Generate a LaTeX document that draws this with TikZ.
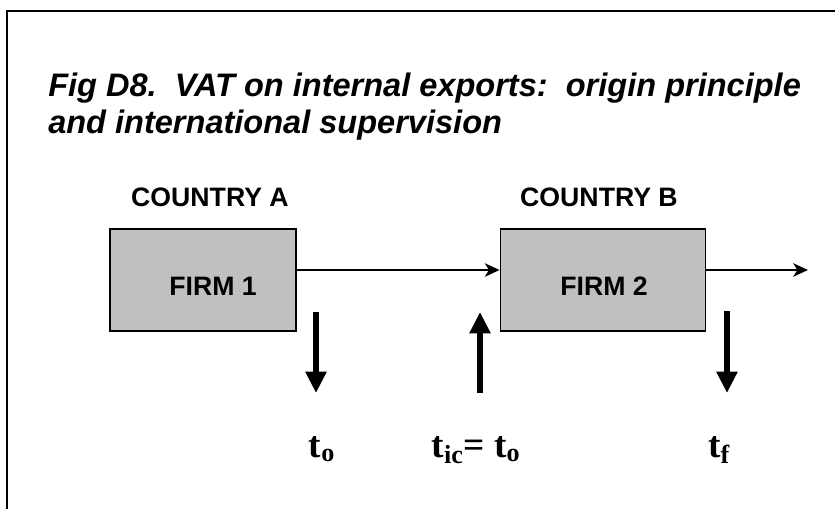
\documentclass[tikz,border=0pt]{standalone}
\usepackage{fontspec}
\setmainfont{Liberation Serif}
\setsansfont{Liberation Sans}
\usetikzlibrary{arrows.meta}
\definecolor{boxgray}{RGB}{192,192,192}

\begin{document}
\begin{tikzpicture}[x=0.75pt,y=-0.75pt]

      \useasboundingbox (0,0) rectangle (835,509);
      \draw[line width=1.1pt] (7,509) -- (7,11) -- (835,11);

      \begin{scope}[every node/.style={anchor=base west,inner sep=0pt,
          font=\sffamily\bfseries\itshape\fontsize{24.4}{28}\selectfont}]
        \node (title1) at (48,97) {Fig D8.\ \ VAT on internal exports:\ \ origin principle};
        \node (title2) at (48,134) {and international supervision};
      \end{scope}

      \begin{scope}[every node/.style={inner sep=0pt,font=\sffamily\bfseries\fontsize{20}{24}\selectfont}]
        \node (countryA) at (210,197) {COUNTRY A};
        \node (countryB) at (599,197) {COUNTRY B};
      \end{scope}

      \begin{scope}[every node/.style={draw,fill=boxgray,line width=1.1pt,minimum height=76.5pt}]
        \node[minimum width=139.5pt] (firm1) at (203,280) {};
        \node[minimum width=154pt]   (firm2) at (603,280) {};
      \end{scope}

      \begin{scope}[every node/.style={inner sep=0pt,font=\sffamily\bfseries\fontsize{20}{24}\selectfont}]
        \node at (213,286) {FIRM 1};
        \node at (604,286) {FIRM 2};
      \end{scope}

      \coordinate (out)  at (808,270);
      \coordinate (a1)   at (316,312);
      \coordinate (a1e)  at (316,393);
      \coordinate (a2)   at (480,393);
      \coordinate (a2e)  at (480,312);
      \coordinate (a3)   at (727,311);
      \coordinate (a3e)  at (727,393);

      \begin{scope}[every edge/.style={draw,line width=1.8pt,-{Stealth[length=11pt,width=10pt,inset=3pt]}}]
        \path ([yshift=7.5pt]firm1.east) edge ([yshift=7.5pt]firm2.west);
        \path ([yshift=7.5pt]firm2.east) edge (out);
      \end{scope}

      \begin{scope}[every edge/.style={draw,line width=5pt,-{Triangle[length=16pt,width=15pt]}}]
        \path (a1) edge (a1e);
        \path (a2) edge (a2e);
        \path (a3) edge (a3e);
      \end{scope}

      \begin{scope}[every node/.style={anchor=base,inner sep=0pt,font=\bfseries\fontsize{28}{32}\selectfont}]
        \node (to)  at (322,457) {t\textsubscript{o}};
        \node (tic) at (476,457) {t\textsubscript{ic}= t\textsubscript{o}};
        \node (tf)  at (719,457) {t\textsubscript{f}};
      \end{scope}

    \end{tikzpicture}
\end{document}
